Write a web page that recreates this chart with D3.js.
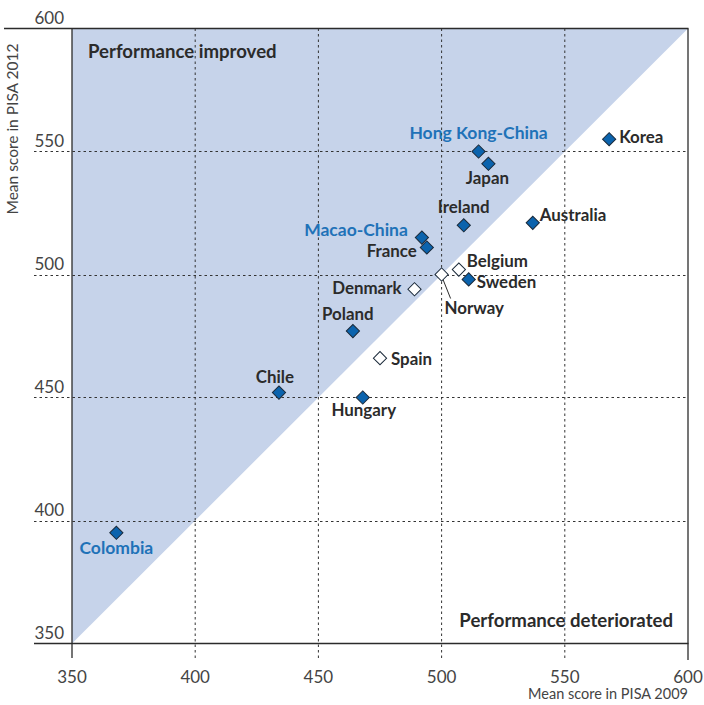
<!DOCTYPE html>
<html>
<head>
<meta charset="utf-8">
<script src="https://cdn.jsdelivr.net/npm/d3@7"></script>
<style>
  html, body { margin: 0; padding: 0; background: #fff; }
  svg { display: block; font-family: Lato, "Open Sans", sans-serif; }
</style>
</head>
<body>
<svg id="chart" width="704" height="705"></svg>
<script>
// ---- data ----
const countries = ["Colombia","Chile","Hungary","Spain","Poland","Denmark","Norway","Belgium","Sweden","Macao-China","France","Ireland","Australia","Hong Kong-China","Japan","Korea"];
const score2009 = [368, 434, 468, 475, 464, 489, 500, 507, 511, 492, 494, 509, 537, 515, 519, 568];
const score2012 = [395, 452, 450, 466, 477, 494, 500, 502, 498, 515, 511, 520, 521, 550, 545, 555];
const significant = [true, true, true, false, true, false, false, false, true, true, true, true, true, true, true, true];
const highlighted = [true, false, false, false, false, false, false, false, false, true, false, false, false, true, false, false];
const xTicks = [350, 400, 450, 500, 550, 600];
const yTicks = [350, 400, 450, 500, 550, 600];
const xTitle = "Mean score in PISA 2009";
const yTitle = "Mean score in PISA 2012";
const cornerTop = "Performance improved";
const cornerBottom = "Performance deteriorated";

// label layout (pixel offsets from the marker, anchor)
const labelLayout = {
  "Colombia": [0, 21, "middle"],
  "Chile": [-4, -10, "middle"],
  "Hungary": [1, 18, "middle"],
  "Spain": [11, 7, "start"],
  "Poland": [-5, -11, "middle"],
  "Denmark": [-13, 5, "end"],
  "Norway": [3, 39, "start"],
  "Belgium": [8, -3, "start"],
  "Sweden": [8, 9, "start"],
  "Macao-China": [-14, -2, "end"],
  "France": [-10, 10, "end"],
  "Ireland": [0, -12, "middle"],
  "Australia": [7, -2, "start"],
  "Hong Kong-China": [0, -13, "middle"],
  "Japan": [-1, 20, "middle"],
  "Korea": [10, 4, "start"]
};

// ---- layout ----
const svg = d3.select("#chart");
const mLeft = 72, mRight = 688, mTop = 28.5, mBottom = 643.5;
const x = d3.scaleLinear().domain([350, 600]).range([mLeft, mRight]);
const y = d3.scaleLinear().domain([350, 600]).range([mBottom, mTop]);

const ink = "#2b2b2b";
const blueText = "#1f72b8";
const shade = "#c6d3ea";

// shaded "improved" area
svg.append("path")
  .attr("d", d3.line()([[x(350), y(350)], [x(350), y(600)], [x(600), y(600)]]) + "Z")
  .attr("fill", shade);

// dashed gridlines
const inner = [400, 450, 500, 550];
svg.append("g").selectAll("line").data(inner).join("line")
  .attr("x1", d => x(d)).attr("x2", d => x(d))
  .attr("y1", mTop).attr("y2", 658)
  .attr("stroke", "#333").attr("stroke-width", 1).attr("stroke-dasharray", "2.5,3");
svg.append("g").selectAll("line").data(inner).join("line")
  .attr("y1", d => Math.round(y(d)) + 0.5).attr("y2", d => Math.round(y(d)) + 0.5)
  .attr("x1", 34).attr("x2", mRight)
  .attr("stroke", "#333").attr("stroke-width", 1).attr("stroke-dasharray", "2.5,3");

// frame lines
svg.append("line").attr("x1", 4).attr("x2", mRight + 0.5).attr("y1", mTop).attr("y2", mTop)
  .attr("stroke", ink).attr("stroke-width", 1.3);
svg.append("line").attr("x1", 34).attr("x2", mRight + 0.5).attr("y1", mBottom).attr("y2", mBottom)
  .attr("stroke", ink).attr("stroke-width", 1.3);
svg.append("line").attr("x1", mLeft).attr("x2", mLeft).attr("y1", mTop).attr("y2", 658)
  .attr("stroke", ink).attr("stroke-width", 1.3);
svg.append("line").attr("x1", mRight).attr("x2", mRight).attr("y1", mTop).attr("y2", 660)
  .attr("stroke", ink).attr("stroke-width", 1.3);

// tick labels
svg.append("g").selectAll("text").data(yTicks).join("text")
  .attr("x", 64).attr("y", d => y(d) - 5)
  .attr("text-anchor", "end").attr("font-size", 17).attr("fill", "#444")
  .text(d => d);
svg.append("g").selectAll("text").data(xTicks).join("text")
  .attr("x", d => x(d)).attr("y", 683)
  .attr("text-anchor", "middle").attr("font-size", 17).attr("fill", "#444")
  .text(d => d);

// axis titles
svg.append("text").attr("x", mRight).attr("y", 699).attr("text-anchor", "end")
  .attr("font-size", 14.5).attr("fill", "#444").text(xTitle);
svg.append("text").attr("transform", "translate(18,129) rotate(-90)")
  .attr("text-anchor", "middle").attr("font-size", 15.5).attr("fill", "#444").text(yTitle);

// corner labels
svg.append("text").attr("x", 88).attr("y", 58).attr("font-size", 18.6)
  .attr("font-weight", 700).attr("fill", ink).text(cornerTop);
svg.append("text").attr("x", 673).attr("y", 627).attr("text-anchor", "end").attr("font-size", 18.6)
  .attr("font-weight", 700).attr("fill", ink).text(cornerBottom);

// data
const pts = countries.map((c, i) => ({
  name: c, a: score2009[i], b: score2012[i], sig: significant[i], hl: highlighted[i]
}));

// Norway leader line
const nor = pts.find(p => p.name === "Norway");
svg.append("line")
  .attr("x1", x(nor.a) + 1).attr("y1", y(nor.b) + 4)
  .attr("x2", x(nor.a) + 9).attr("y2", y(nor.b) + 24)
  .attr("stroke", ink).attr("stroke-width", 1);

// markers
const r = 6.6;
const diamond = d3.symbol().type(d3.symbolSquare).size((r * Math.SQRT2) ** 2);
svg.append("g").selectAll("path").data(pts).join("path")
  .attr("d", diamond)
  .attr("transform", d => `translate(${x(d.a)},${y(d.b)}) rotate(45)`)
  .attr("fill", d => d.sig ? "#0b63ad" : "#ffffff")
  .attr("stroke", "#1b2a3a").attr("stroke-width", 1);

// labels
svg.append("g").selectAll("text").data(pts).join("text")
  .attr("x", d => x(d.a) + labelLayout[d.name][0])
  .attr("y", d => y(d.b) + labelLayout[d.name][1])
  .attr("text-anchor", d => labelLayout[d.name][2])
  .attr("font-size", d => d.hl ? 17.5 : 16.9).attr("font-weight", 700)
  .attr("fill", d => d.hl ? blueText : ink)
  .text(d => d.name);
</script>
</body>
</html>
